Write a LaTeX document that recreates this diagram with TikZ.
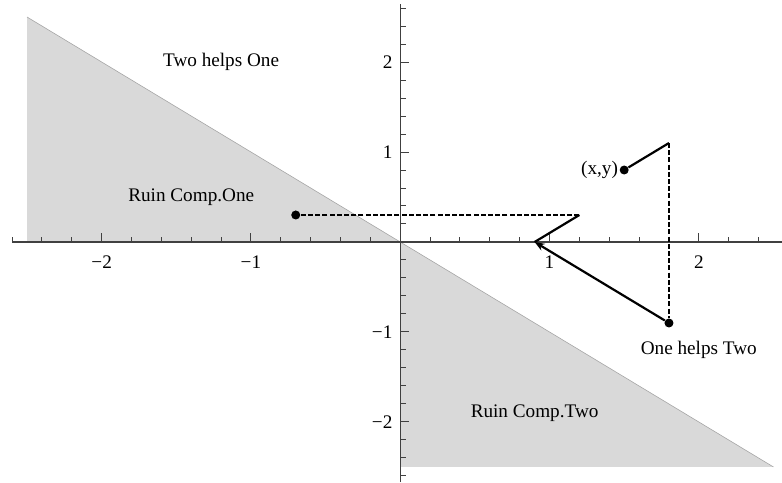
\documentclass[tikz,border=0pt]{standalone}
\usepackage{fontspec}
\setmainfont{Liberation Serif}
\usetikzlibrary{arrows.meta,positioning}
\definecolor{ruingray}{HTML}{D9D9D9}
\definecolor{edgegray}{HTML}{A6A6A6}
\definecolor{axisgray}{HTML}{404040}
\tikzset{
  dot/.style={circle, fill, inner sep=0pt, minimum size=4.5pt},
  solidseg/.style={line width=1.1pt},
  dashseg/.style={line width=1.3pt, dash pattern=on 2.5pt off 1.1pt},
  lbl/.style={font=\fontsize{9.6}{11}\selectfont, inner sep=0pt},
  axistick/.style={axisgray, line width=0.5pt}
}
\begin{document}
\begin{tikzpicture}[x=74.65pt, y=45pt]
\useasboundingbox (-2.681,-2.667) rectangle (2.557,2.689);
% shaded regions
\fill[ruingray] (-2.5,2.5) -- (0,0) -- (-2.5,0) -- cycle;
\fill[ruingray] (0,0) -- (2.5,-2.5) -- (0,-2.5) -- cycle;
\draw[edgegray, line width=0.3pt] (-2.5,2.5) -- (2.5,-2.5);

% axes
\draw[axisgray, line width=0.6pt] (-2.6,0) -- (2.557,0);
\draw[axisgray, line width=0.6pt] (0,-2.667) -- (0,2.65);
\foreach \i in {-13,...,12} {
  \draw[axistick] (\i/5,0) -- ++(0,2.7pt);
}
\foreach \i in {-13,...,13} {
  \draw[axistick] (0,\i/5) -- ++(2.7pt,0);
}
\foreach \i/\t in {-2/−2,-1/−1,1/1,2/2} {
  \draw[axistick] (\i,0) -- ++(0,4.5pt);
  \draw[axistick] (0,\i) -- ++(4.5pt,0);
  \node[lbl] at (\i,-0.22) {\t};
  \node[lbl, anchor=east] at (-0.05,\i) {\t};
}

% path of the point
\node[dot] (start) at (1.5,0.8) {};
\coordinate (bounce) at (1.8,1.1);
\node[dot] (drop) at (1.8,-0.9) {};
\coordinate (hit) at (0.9,0);
\coordinate (turn) at (1.2,0.3);
\node[dot] (stop) at (-0.7,0.3) {};

\draw[solidseg] (start) -- (bounce);
\draw[dashseg] (bounce) -- (drop);
\draw[solidseg, -{Stealth[length=5pt,width=3.8pt]}] (drop) -- (hit);
\draw[solidseg] (hit) -- (turn);
\draw[dashseg] (turn) -- (stop);

% labels
\node[lbl] (twoone) at (-1.2,2) {Two helps One};
\node[lbl] (ruinone) at (-1.4,0.5) {Ruin Comp.One};
\node[lbl, left=0.5pt of start] (xy) {(x,y)};
\node[lbl] (onetwo) at (2,-1.2) {One helps Two};
\node[lbl] (ruintwo) at (0.9,-1.9) {Ruin Comp.Two};
\end{tikzpicture}
\end{document}
